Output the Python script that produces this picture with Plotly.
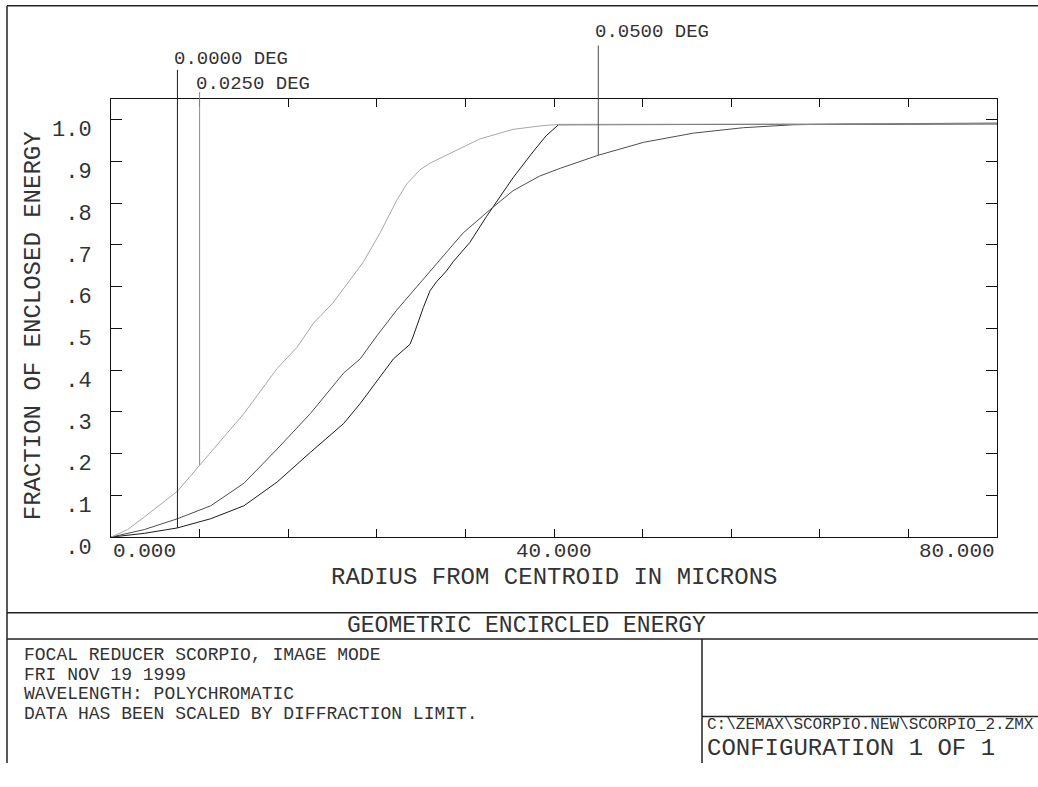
import plotly.graph_objects as go

# ---------------- data ----------------
field_labels = ["0.0000 DEG", "0.0250 DEG", "0.0500 DEG"]

radius_00 = [0, 3, 6, 9, 12, 15, 18, 21, 22.5, 24, 25.5, 27, 27.3, 28.2, 28.8, 29.4, 30.3,
             30.9, 32.4, 33.9, 35.0, 36.3, 38.1, 39.3, 40.4, 50, 60, 70, 80]
ee_00 = [0, 0.009, 0.022, 0.044, 0.075, 0.132, 0.203, 0.272, 0.32, 0.373, 0.427, 0.462, 0.482,
         0.55, 0.59, 0.612, 0.638, 0.66, 0.706, 0.768, 0.81, 0.861, 0.923, 0.962, 0.988,
         0.989, 0.989, 0.989, 0.99]

radius_25 = [0, 1.5, 3, 4.5, 6, 8, 10, 12, 15, 16.8, 18.3, 20, 21.3, 22.8, 24.3, 25.8, 26.7,
             27.9, 28.8, 30.3, 33.3, 36.3, 39, 40.5, 50, 60, 70, 80]
ee_25 = [0, 0.018, 0.048, 0.078, 0.11, 0.172, 0.235, 0.296, 0.404, 0.455, 0.513, 0.56, 0.606,
         0.66, 0.729, 0.807, 0.846, 0.88, 0.896, 0.915, 0.954, 0.977, 0.986, 0.989, 0.989,
         0.989, 0.989, 0.99]

radius_50 = [0, 3, 6, 9, 12, 15, 18, 21, 22.5, 24, 25.8, 28.8, 31.8, 34.2, 36.3, 38.7, 40.6,
             44, 48.1, 52.6, 57.1, 61.6, 66.2, 80]
ee_50 = [0, 0.018, 0.044, 0.075, 0.129, 0.211, 0.296, 0.393, 0.427, 0.482, 0.544, 0.636,
         0.729, 0.784, 0.83, 0.865, 0.884, 0.915, 0.946, 0.968, 0.981, 0.988, 0.99, 0.992]

# radius at which each field label points to its curve
label_radius = [6, 8, 44]

x_tickvals = [0, 8, 16, 24, 32, 40, 48, 56, 64, 72, 80]
x_ticklabels = {0: "0.000", 40: "40.000", 80: "80.000"}
y_tickvals = [0, 0.1, 0.2, 0.3, 0.4, 0.5, 0.6, 0.7, 0.8, 0.9, 1.0]
y_ticktext = [".0", ".1", ".2", ".3", ".4", ".5", ".6", ".7", ".8", ".9", "1.0"]

x_title = "RADIUS FROM CENTROID IN MICRONS"
y_title = "FRACTION OF ENCLOSED ENERGY"
plot_title = "GEOMETRIC ENCIRCLED ENERGY"
info_lines = ["FOCAL REDUCER SCORPIO, IMAGE MODE", "FRI NOV 19 1999",
              "WAVELENGTH: POLYCHROMATIC", "DATA HAS BEEN SCALED BY DIFFRACTION LIMIT."]
file_path = "C:\\ZEMAX\\SCORPIO.NEW\\SCORPIO_2.ZMX"
config_text = "CONFIGURATION 1 OF 1"

# ---------------- figure ----------------
W, H = 1038, 787
FONT = "Liberation Mono"
TXT = "#333333"


def px(x):
    return x / W


def py(y):
    return 1 - y / H


series = [
    (radius_00, ee_00, "#1c1c1c", field_labels[0]),
    (radius_50, ee_50, "#4d4d4d", field_labels[2]),
    (radius_25, ee_25, "#a8a8a8", field_labels[1]),
]

fig = go.Figure()
for xs, ys, col, nm in series:
    fig.add_trace(go.Scatter(x=xs, y=ys, mode="lines", name=nm,
                             line=dict(color=col, width=1), showlegend=False,
                             hoverinfo="skip"))

fig.update_layout(
    width=W, height=H,
    margin=dict(l=0, r=0, t=0, b=0),
    paper_bgcolor="white", plot_bgcolor="white",
    font=dict(family=FONT, color=TXT),
    xaxis=dict(domain=[px(111), px(997)], range=[0, 80], showgrid=False, zeroline=False,
               showline=True, linecolor="#111", linewidth=1, mirror="ticks",
               ticks="inside", ticklen=8, tickcolor="#111", tickwidth=1,
               tickvals=x_tickvals, showticklabels=False, fixedrange=True),
    yaxis=dict(domain=[py(554), py(102)], range=[0, 1.05], showgrid=False, zeroline=False,
               showline=True, linecolor="#111", linewidth=1, mirror="ticks",
               ticks="inside", ticklen=11, tickcolor="#111", tickwidth=1,
               tickvals=y_tickvals, ticktext=y_ticktext,
               tickfont=dict(family=FONT, size=22, color=TXT),
               ticklabelstandoff=14, ticklabelshift=9, fixedrange=True),
)

# x tick labels placed at their data positions
for v, t in x_ticklabels.items():
    anchor = "left" if v == x_tickvals[0] else ("right" if v == x_tickvals[-1] else "center")
    fig.add_annotation(x=v, xref="x", y=py(569), yref="paper", text=t, showarrow=False,
                       xanchor=anchor, yanchor="middle",
                       font=dict(family=FONT, size=21, color=TXT))

# axis titles
fig.add_annotation(x=px(554), y=py(595.5), xref="paper", yref="paper", text=x_title,
                   showarrow=False, xanchor="center", yanchor="middle",
                   font=dict(family=FONT, size=24, color=TXT))
fig.add_annotation(x=px(33), y=py(336.5), xref="paper", yref="paper", text=y_title,
                   textangle=-90, showarrow=False, xanchor="center", yanchor="middle",
                   font=dict(family=FONT, size=24, color=TXT))

# field labels and their leader lines
curve_for_label = [(radius_00, ee_00, "#1c1c1c"), (radius_25, ee_25, "#8c8c8c"),
                   (radius_50, ee_50, "#4d4d4d")]
label_text_pos = [(172, 61), (194, 86.5), (593, 33.5)]
line_top = [72, 95, 47]
for k in range(3):
    xs, ys, col = curve_for_label[k]
    r = label_radius[k]
    yv = ys[xs.index(r)]
    # inside the plot: from the curve up to the top of the range
    fig.add_shape(type="line", xref="x", yref="y", x0=r, x1=r, y0=yv, y1=1.05,
                  line=dict(color=col, width=1))
    # above the plot: from the frame up to the label
    fig.add_shape(type="line", xref="x", yref="paper", x0=r, x1=r, y0=py(102),
                  y1=py(line_top[k]), line=dict(color=col, width=1))
    lx, ly = label_text_pos[k]
    fig.add_annotation(x=px(lx), y=py(ly), xref="paper", yref="paper", text=field_labels[k],
                       showarrow=False, xanchor="left", yanchor="middle",
                       font=dict(family=FONT, size=19, color=TXT))

# page frame
frame = [
    (7, 6, W, 6), (7, 6, 7, H), (7, 632, W, 632), (7, 659, W, 659),
    (702, 659, 702, H), (702, 739, W, 739),
]
for x0, y0, x1, y1 in frame:
    fig.add_shape(type="line", xref="paper", yref="paper", x0=px(x0), y0=py(y0),
                  x1=px(x1), y1=py(y1), line=dict(color="#222", width=1.5))

fig.add_annotation(x=px(526), y=py(645.5), xref="paper", yref="paper", text=plot_title,
                   showarrow=False, xanchor="center", yanchor="middle",
                   font=dict(family=FONT, size=23, color=TXT))
for i, line in enumerate(info_lines):
    fig.add_annotation(x=px(22), y=py(676 + 20 * i), xref="paper", yref="paper", text=line,
                       showarrow=False, xanchor="left", yanchor="middle",
                       font=dict(family=FONT, size=18, color=TXT))
fig.add_annotation(x=px(705), y=py(748), xref="paper", yref="paper", text=file_path,
                   showarrow=False, xanchor="left", yanchor="middle",
                   font=dict(family=FONT, size=16, color=TXT))
fig.add_annotation(x=px(705), y=py(772), xref="paper", yref="paper", text=config_text,
                   showarrow=False, xanchor="left", yanchor="middle",
                   font=dict(family=FONT, size=24, color=TXT))

fig.write_html("out.html", config={"displayModeBar": False},
               post_script="document.body.style.margin='0';document.body.style.overflow='hidden';")
